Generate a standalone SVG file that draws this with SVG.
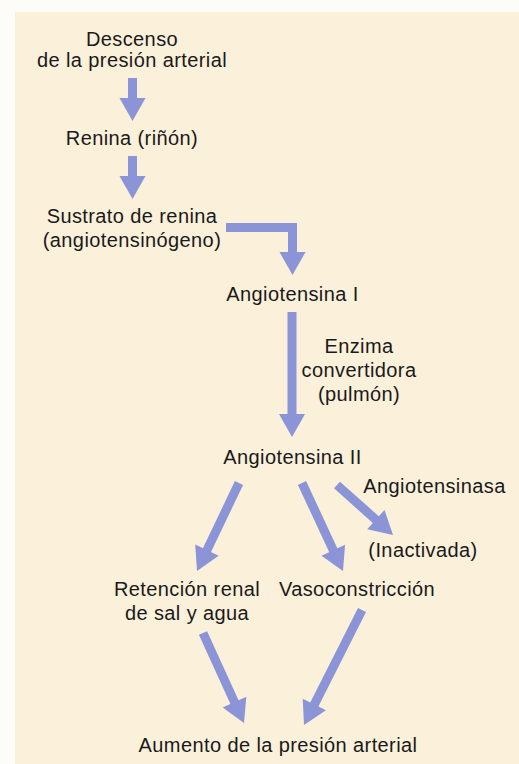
<svg xmlns="http://www.w3.org/2000/svg" width="519" height="764" viewBox="0 0 519 764">
<style>
text{font-family:"Liberation Sans",Arial,sans-serif;font-size:20px;fill:#1a1a1a;text-anchor:middle;letter-spacing:0.4px}
.c{fill:none;stroke:#8b94d6;stroke-width:9;stroke-linejoin:miter}
</style>
<defs>
<marker id="ah" markerUnits="userSpaceOnUse" markerWidth="24" markerHeight="28" refX="1" refY="13" orient="auto" overflow="visible">
<path d="M0,0 L23,13 L0,26 Z" fill="#8b94d6"/>
</marker>
</defs>
<rect x="0" y="0" width="519" height="764" fill="#fdfcf8"/>
<rect x="15" y="12" width="504" height="752" fill="#fbf0da"/>
<g id="connectors">
<line class="c" x1="132.5" y1="78" x2="132.5" y2="99" marker-end="url(#ah)"/>
<line class="c" x1="132.5" y1="156" x2="132.5" y2="177" marker-end="url(#ah)"/>
<path class="c" d="M226,227.5 H292.5 V253" marker-end="url(#ah)"/>
<line class="c" x1="292" y1="312" x2="292" y2="415" marker-end="url(#ah)"/>
<line class="c" x1="239" y1="483" x2="206.5" y2="551.1" marker-end="url(#ah)"/>
<line class="c" x1="302" y1="483" x2="333.7" y2="551.1" marker-end="url(#ah)"/>
<line class="c" x1="337" y1="485" x2="376.6" y2="520.3" marker-end="url(#ah)"/>
<line class="c" x1="203" y1="633" x2="234.9" y2="703" marker-end="url(#ah)"/>
<line class="c" x1="362" y1="610" x2="313.9" y2="705.4" marker-end="url(#ah)"/>
</g>
<g id="descenso"><text x="132" y="46">Descenso</text><text x="132" y="67">de la presión arterial</text></g>
<g id="renina"><text x="132" y="145">Renina (riñón)</text></g>
<g id="sustrato"><text x="132" y="223">Sustrato de renina</text><text x="132" y="247">(angiotensinógeno)</text></g>
<g id="angiotensina1"><text x="292.5" y="301">Angiotensina I</text></g>
<g id="enzima"><text x="359" y="353">Enzima</text><text x="359" y="377">convertidora</text><text x="359" y="401">(pulmón)</text></g>
<g id="angiotensina2"><text x="292.5" y="464">Angiotensina II</text></g>
<g id="angiotensinasa"><text x="434.5" y="493">Angiotensinasa</text></g>
<g id="inactivada"><text x="423" y="557">(Inactivada)</text></g>
<g id="retencion"><text x="187" y="596">Retención renal</text><text x="187" y="620">de sal y agua</text></g>
<g id="vasoconstriccion"><text x="357" y="596">Vasoconstricción</text></g>
<g id="aumento"><text x="278" y="752">Aumento de la presión arterial</text></g>
</svg>
